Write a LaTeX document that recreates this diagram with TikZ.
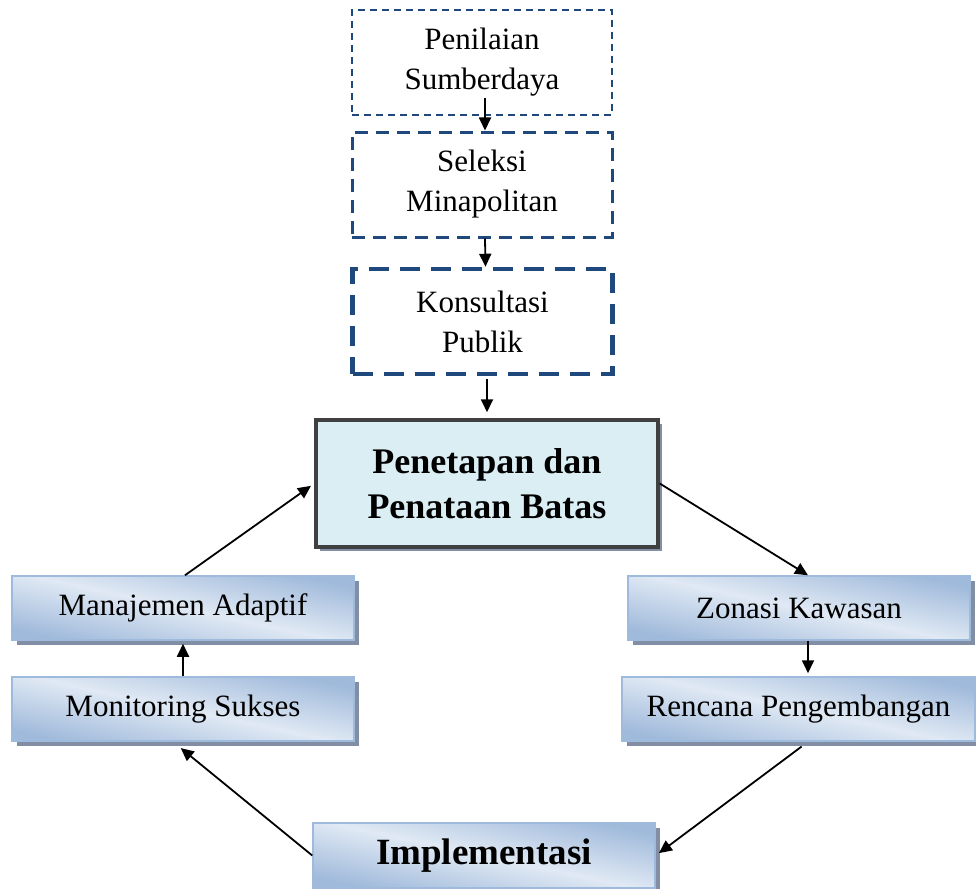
\documentclass[tikz,border=0pt]{standalone}
\usepackage{fontspec}
\setmainfont{Liberation Serif}
\usetikzlibrary{arrows.meta,calc,positioning,shadows}
\definecolor{dashblue}{RGB}{31,73,125}
\definecolor{coreblue}{RGB}{218,238,243}
\definecolor{coreedge}{RGB}{64,64,64}
\definecolor{shadeblue}{RGB}{160,186,219}
\definecolor{shadelite}{RGB}{224,233,244}
\definecolor{stepedge}{RGB}{158,186,220}
\definecolor{shadowgray}{RGB}{130,142,163}
\tikzset{
  flow/.style={-{Triangle[length=13pt,width=12pt]},line width=1.8pt},
  txt/.style={font=\fontsize{31}{40}\selectfont,align=center},
  plan/.style={txt,draw=dashblue,minimum width=260pt,minimum height=105pt},
  planA/.style={plan,line width=1.8pt,dash pattern=on 7pt off 5pt},
  planB/.style={plan,line width=3pt,dash pattern=on 13pt off 8pt},
  planC/.style={plan,line width=4.5pt,dash pattern=on 20pt off 11pt},
  core/.style={txt,draw=coreedge,line width=3.5pt,fill=coreblue,
               minimum width=342pt,minimum height=127pt,
               font=\fontsize{36}{45}\selectfont\bfseries,
               drop shadow={shadow xshift=4pt,shadow yshift=-4pt,fill=shadowgray,opacity=1}},
  stepbox/.style={txt,draw=stepedge,line width=1.5pt,minimum height=64pt,minimum width=342pt,
               top color=shadeblue,bottom color=shadeblue,middle color=shadelite,shading angle=-12,
               drop shadow={shadow xshift=5pt,shadow yshift=-5pt,fill=shadowgray,opacity=1}},
}
\begin{document}
\begin{tikzpicture}[x=1pt,y=-1pt]
  \path[use as bounding box] (0,0) rectangle (976,888);

  % preparation chain
  \node[planA] (nilai) at (482,62.5) {Penilaian\\Sumberdaya};
  \node[planB] (seleksi) at (482,184.5) {Seleksi\\Minapolitan};
  \node[planC] (konsul) at (482.5,321.5) {Konsultasi\\Publik};

  \node[core] (batas) at (487,483.5) {Penetapan dan\\Penataan Batas};

  % cycle
  \node[stepbox] (adaptif) at (183,608) {Manajemen Adaptif};
  \node[stepbox] (monitor) at (183,709) {Monitoring Sukses};
  \node[stepbox] (zonasi) at (799,608) {Zonasi Kawasan};
  \node[stepbox,minimum width=353pt] (rencana) at (798.5,709) {Rencana Pengembangan};
  \node[stepbox,minimum height=65pt,font=\fontsize{37}{45}\selectfont\bfseries]
    (impl) at (484,855.5) {Implementasi};

  \draw[flow] ([xshift=3pt,yshift=18pt]nilai.south) -- ([xshift=3pt]seleksi.north);
  \draw[flow] ([xshift=3pt]seleksi.south) -- ([xshift=3pt]konsul.north);
  \draw[flow,shorten <=3pt,shorten >=6pt] ([xshift=4.5pt]konsul.south) -- ([xshift=4.5pt]konsul.south |- batas.north);
  \draw[flow,shorten >=4pt] ([xshift=2pt]adaptif.north) -- (batas.west);
  \draw[flow] (batas.east) -- ([xshift=9pt]zonasi.north);
  \draw[flow,shorten >=3pt] ([xshift=9pt]zonasi.south) -- ([xshift=9pt]zonasi.south |- rencana.north);
  \draw[flow,shorten <=8pt,shorten >=4pt] ([xshift=9.5pt]rencana.south) -- (impl.east);
  \draw[flow,shorten >=10pt] (impl.west) -- ([xshift=-10pt]monitor.south);
  \draw[flow,shorten >=3pt] (monitor.north) -- (adaptif.south);
\end{tikzpicture}
\end{document}
